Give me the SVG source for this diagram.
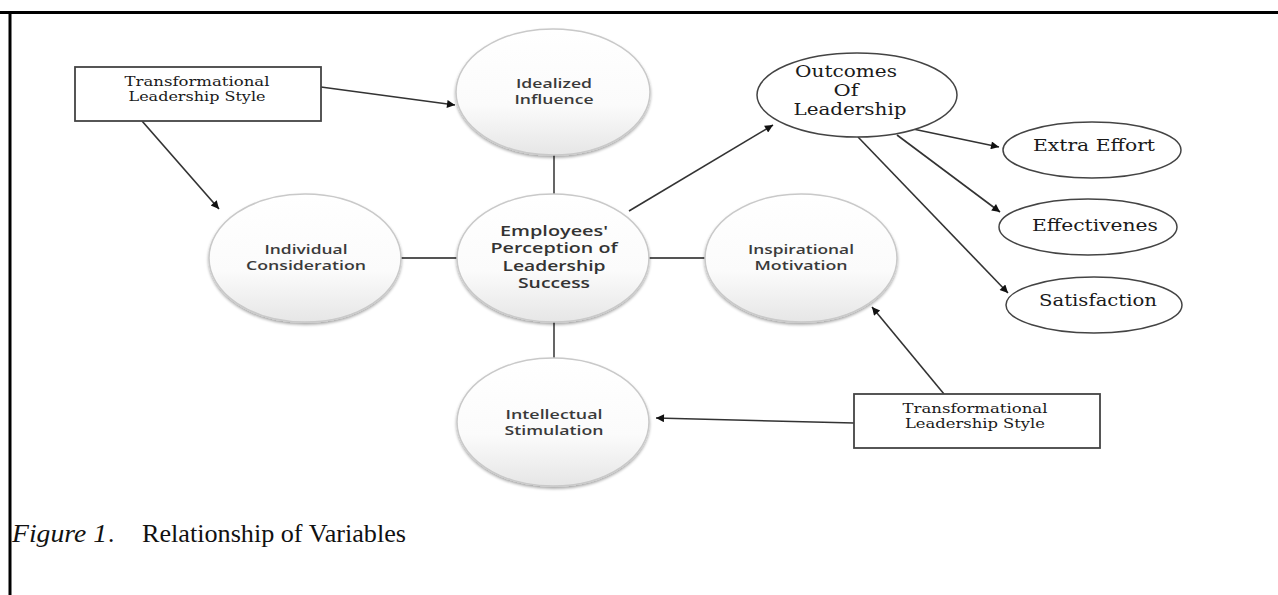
<svg xmlns="http://www.w3.org/2000/svg" width="1278" height="595" viewBox="0 0 1278 595">
<style>
.bub{fill:url(#bg);stroke:#c9c9c9;stroke-width:1.5;filter:url(#sh)}
.bt{font-family:"Open Sans","DejaVu Sans",sans-serif;font-weight:600;font-size:13.2px;fill:#3a3a3a;text-anchor:middle}
.bt2{font-family:"Open Sans","DejaVu Sans",sans-serif;font-weight:600;font-size:14.5px;fill:#333;text-anchor:middle}
.st{font-family:"DejaVu Serif","Liberation Serif",serif;font-size:12.5px;fill:#1a1a1a;text-anchor:middle}
.ot{font-family:"DejaVu Serif","Liberation Serif",serif;font-size:16.5px;fill:#1a1a1a;text-anchor:middle}
.ov{fill:#fff;stroke:#444;stroke-width:1.5}
.box{fill:#fff;stroke:#444;stroke-width:1.8}
.ln{stroke:#555;stroke-width:1.8;fill:none}
.ar{stroke:#333;stroke-width:1.6;fill:none;marker-end:url(#ah)}
.cap{font-family:"Liberation Serif","Times New Roman",serif;font-size:25px;fill:#111}
</style>
<defs>
<linearGradient id="bg" x1="0" y1="0" x2="0" y2="1">
<stop offset="0" stop-color="#ffffff"/>
<stop offset="0.6" stop-color="#fbfbfb"/>
<stop offset="1" stop-color="#e6e6e6"/>
</linearGradient>
<filter id="sh" x="-20%" y="-20%" width="140%" height="140%">
<feGaussianBlur in="SourceAlpha" stdDeviation="1.5"/>
<feOffset dx="0" dy="2" result="o"/>
<feComponentTransfer><feFuncA type="linear" slope="0.35"/></feComponentTransfer>
<feMerge><feMergeNode/><feMergeNode in="SourceGraphic"/></feMerge>
</filter>
<marker id="ah" viewBox="0 0 10 10" refX="10" refY="5" markerWidth="10" markerHeight="8" markerUnits="userSpaceOnUse" orient="auto">
<path d="M0,0 L10,5 L0,10 z" fill="#111"/>
</marker>
</defs>
<rect width="1278" height="595" fill="#fff"/>
<g id="frame">
<line x1="0" y1="12.5" x2="1278" y2="12.5" stroke="#000" stroke-width="3"/>
<line x1="10" y1="11" x2="10" y2="595" stroke="#000" stroke-width="3"/>
</g>
<g id="connectors">
<line class="ln" x1="554" y1="155" x2="554" y2="194"/>
<line class="ln" x1="554" y1="322" x2="554" y2="358"/>
<line class="ln" x1="401" y1="258" x2="457" y2="258"/>
<line class="ln" x1="648" y1="258" x2="705" y2="258"/>
<line class="ar" x1="321" y1="87" x2="455" y2="105"/>
<line class="ar" x1="142" y1="121" x2="219" y2="209"/>
<line class="ar" x1="629" y1="211" x2="773" y2="125"/>
<line class="ar" x1="913" y1="129" x2="999" y2="147"/>
<line class="ar" x1="897" y1="135" x2="1000" y2="212"/>
<line class="ar" x1="858" y1="137" x2="1008" y2="293"/>
<line class="ar" x1="944" y1="394" x2="872" y2="307"/>
<line class="ar" x1="854" y1="423" x2="656" y2="418"/>
</g>
<g id="tls1">
<rect class="box" x="75" y="67" width="246" height="54"/>
<text class="st" x="197" y="86" textLength="145" lengthAdjust="spacingAndGlyphs">Transformational</text>
<text class="st" x="197" y="101" textLength="137" lengthAdjust="spacingAndGlyphs">Leadership Style</text>
</g>
<g id="idealized">
<ellipse class="bub" cx="553" cy="92" rx="97" ry="63"/>
<text class="bt" x="554" y="88" textLength="76" lengthAdjust="spacingAndGlyphs">Idealized</text>
<text class="bt" x="554" y="104" textLength="79" lengthAdjust="spacingAndGlyphs">Influence</text>
</g>
<g id="individual">
<ellipse class="bub" cx="305" cy="258" rx="96" ry="64"/>
<text class="bt" x="306" y="254" textLength="83" lengthAdjust="spacingAndGlyphs">Individual</text>
<text class="bt" x="306" y="270" textLength="120" lengthAdjust="spacingAndGlyphs">Consideration</text>
</g>
<g id="employees">
<ellipse class="bub" cx="553" cy="258" rx="96" ry="64"/>
<text class="bt2" x="554" y="236" textLength="108" lengthAdjust="spacingAndGlyphs">Employees'</text>
<text class="bt2" x="554" y="253" textLength="127" lengthAdjust="spacingAndGlyphs">Perception of</text>
<text class="bt2" x="554" y="270.5" textLength="103" lengthAdjust="spacingAndGlyphs">Leadership</text>
<text class="bt2" x="554" y="288" textLength="72" lengthAdjust="spacingAndGlyphs">Success</text>
</g>
<g id="inspirational">
<ellipse class="bub" cx="801" cy="258" rx="96" ry="64"/>
<text class="bt" x="801" y="254" textLength="106" lengthAdjust="spacingAndGlyphs">Inspirational</text>
<text class="bt" x="801" y="270" textLength="93" lengthAdjust="spacingAndGlyphs">Motivation</text>
</g>
<g id="intellectual">
<ellipse class="bub" cx="553" cy="422" rx="96" ry="64"/>
<text class="bt" x="554" y="419" textLength="97" lengthAdjust="spacingAndGlyphs">Intellectual</text>
<text class="bt" x="554" y="435" textLength="99" lengthAdjust="spacingAndGlyphs">Stimulation</text>
</g>
<g id="outcomes">
<ellipse class="ov" cx="857" cy="95" rx="100" ry="42"/>
<text class="ot" x="846" y="77" textLength="102" lengthAdjust="spacingAndGlyphs">Outcomes</text>
<text class="ot" x="846" y="96" textLength="25" lengthAdjust="spacingAndGlyphs">Of</text>
<text class="ot" x="850" y="115" textLength="113" lengthAdjust="spacingAndGlyphs">Leadership</text>
</g>
<g id="extra">
<ellipse class="ov" cx="1092" cy="150" rx="89" ry="28"/>
<text class="ot" x="1094" y="151" textLength="122" lengthAdjust="spacingAndGlyphs">Extra Effort</text>
</g>
<g id="effect">
<ellipse class="ov" cx="1088" cy="227" rx="89" ry="28"/>
<text class="ot" x="1095" y="231" textLength="126" lengthAdjust="spacingAndGlyphs">Effectivenes</text>
</g>
<g id="satis">
<ellipse class="ov" cx="1094" cy="305" rx="88" ry="28"/>
<text class="ot" x="1098" y="306" textLength="118" lengthAdjust="spacingAndGlyphs">Satisfaction</text>
</g>
<g id="tls2">
<rect class="box" x="854" y="394" width="246" height="54"/>
<text class="st" x="975" y="413" textLength="145" lengthAdjust="spacingAndGlyphs">Transformational</text>
<text class="st" x="975" y="428" textLength="140" lengthAdjust="spacingAndGlyphs">Leadership Style</text>
</g>
<g id="caption">
<text class="cap" x="12" y="542" font-style="italic" textLength="95" lengthAdjust="spacingAndGlyphs">Figure 1</text>
<text class="cap" x="108" y="542">.</text>
<text class="cap" x="142" y="542" textLength="264" lengthAdjust="spacingAndGlyphs">Relationship of Variables</text>
</g>
</svg>
